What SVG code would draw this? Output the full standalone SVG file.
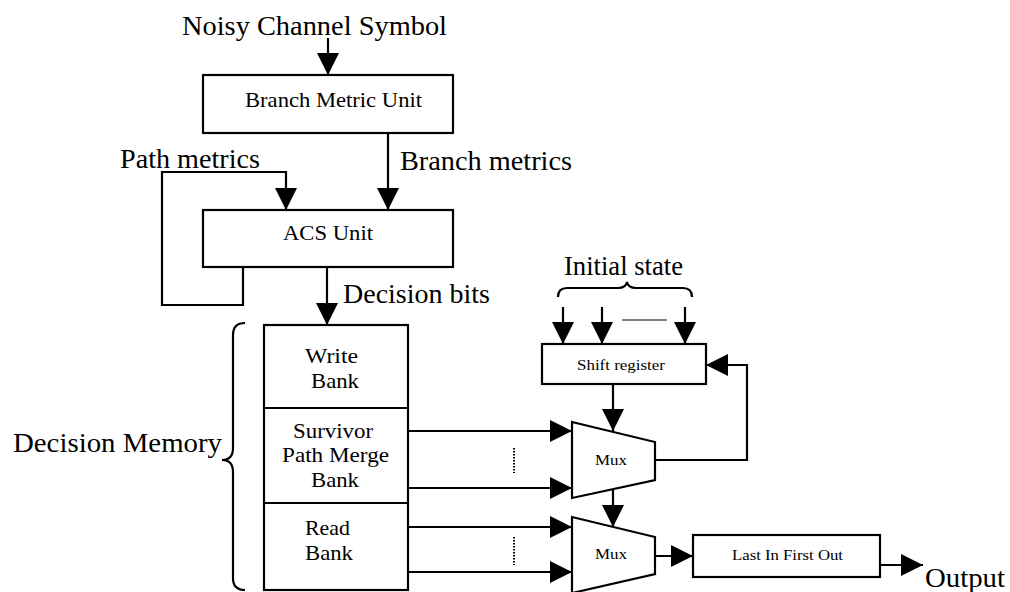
<svg xmlns="http://www.w3.org/2000/svg" width="1010" height="592" viewBox="0 0 1010 592">
  <style>
    .box { fill: #fff; stroke: #000; stroke-width: 2.2; }
    .wire { fill: none; stroke: #000; stroke-width: 2.2; }
    .arrow { fill: none; stroke: #000; stroke-width: 2.2; marker-end: url(#head); }
    .brace { fill: none; stroke: #000; stroke-width: 2.2; }
    .dots { fill: none; stroke: #000; stroke-width: 2; stroke-dasharray: 1.5 1.5; }
    .big { font-family: "Liberation Serif", "Times New Roman", serif; font-size: 27px; fill: #000; }
    .mid { font-family: "Liberation Serif", "Times New Roman", serif; font-size: 22px; fill: #000; }
    .small { font-family: "Liberation Serif", "Times New Roman", serif; font-size: 15px; fill: #000; }
    .tiny { font-family: "Liberation Serif", "Times New Roman", serif; font-size: 15px; fill: #000; }
  </style>
  <defs>
    <marker id="head" markerUnits="userSpaceOnUse" markerWidth="22" markerHeight="22" refX="22" refY="11" orient="auto">
      <path d="M0,0 L22,11 L0,22 z" fill="#000"/>
    </marker>
  </defs>
  <rect width="1010" height="592" fill="#fff"/>

  <!-- free labels -->
  <text class="big" x="182" y="35" textLength="265" lengthAdjust="spacingAndGlyphs">Noisy Channel Symbol</text>
  <text class="big" x="120" y="168" textLength="140" lengthAdjust="spacingAndGlyphs">Path metrics</text>
  <text class="big" x="400" y="170" textLength="172" lengthAdjust="spacingAndGlyphs">Branch metrics</text>
  <text class="big" x="343" y="303" textLength="147" lengthAdjust="spacingAndGlyphs">Decision bits</text>
  <text class="big" x="564" y="275" textLength="119" lengthAdjust="spacingAndGlyphs">Initial state</text>
  <text class="big" x="13" y="452" textLength="209" lengthAdjust="spacingAndGlyphs">Decision Memory</text>
  <text class="big" x="925" y="587" textLength="80" lengthAdjust="spacingAndGlyphs">Output</text>

  <!-- braces -->
  <path class="brace" d="M558,297 Q558,288 567,288 L618,288 Q626,288 627,282 Q628,288 636,288 L683,288 Q692,288 692,297"/>
  <path class="brace" d="M245,323 Q233,323 233,335 L233,448 Q233,460 222,460 Q233,460 233,472 L233,578 Q233,590 245,590"/>

  <g id="connectors">
    <line class="arrow" x1="328" y1="38" x2="328" y2="75"/>
    <line class="arrow" x1="388" y1="133" x2="388" y2="210"/>
    <polyline class="arrow" points="243,267 243,305 162,305 162,172 286,172 286,210"/>
    <line class="arrow" x1="327" y1="267" x2="327" y2="325"/>
    <line class="arrow" x1="563" y1="307" x2="563" y2="344"/>
    <line class="arrow" x1="602" y1="307" x2="602" y2="344"/>
    <line class="arrow" x1="685" y1="307" x2="685" y2="344"/>
    <line class="wire" x1="622" y1="320" x2="667" y2="320" style="stroke-width:1.2"/>
    <line class="arrow" x1="613" y1="384" x2="613" y2="431"/>
    <polyline class="arrow" points="655,460 747,460 747,365 706,365"/>
    <line class="arrow" x1="613" y1="489" x2="613" y2="527"/>
    <line class="arrow" x1="408" y1="431" x2="572" y2="431"/>
    <line class="arrow" x1="408" y1="488" x2="572" y2="488"/>
    <line class="arrow" x1="408" y1="527" x2="572" y2="527"/>
    <line class="arrow" x1="408" y1="572" x2="572" y2="572"/>
    <line class="dots" x1="514" y1="448" x2="514" y2="473"/>
    <line class="dots" x1="514" y1="537" x2="514" y2="565"/>
    <line class="arrow" x1="655" y1="556" x2="693" y2="556"/>
    <line class="arrow" x1="880" y1="565" x2="923" y2="565"/>
  </g>

  <g id="branch-metric-unit">
    <rect class="box" x="203" y="75" width="250" height="58"/>
    <text class="mid" x="245" y="107" textLength="177" lengthAdjust="spacingAndGlyphs">Branch Metric Unit</text>
  </g>

  <g id="acs-unit">
    <rect class="box" x="203" y="210" width="250" height="57"/>
    <text class="mid" x="283" y="240" textLength="90" lengthAdjust="spacingAndGlyphs">ACS Unit</text>
  </g>

  <g id="decision-memory">
    <rect class="box" x="264" y="325" width="144" height="265"/>
    <line class="wire" x1="264" y1="408" x2="408" y2="408"/>
    <line class="wire" x1="264" y1="503" x2="408" y2="503"/>
    <text class="mid" x="305" y="363" textLength="53" lengthAdjust="spacingAndGlyphs">Write</text>
    <text class="mid" x="311" y="388" textLength="48" lengthAdjust="spacingAndGlyphs">Bank</text>
    <text class="mid" x="293" y="438" textLength="80" lengthAdjust="spacingAndGlyphs">Survivor</text>
    <text class="mid" x="282" y="462" textLength="107" lengthAdjust="spacingAndGlyphs">Path Merge</text>
    <text class="mid" x="311" y="487" textLength="48" lengthAdjust="spacingAndGlyphs">Bank</text>
    <text class="mid" x="305" y="535" textLength="45" lengthAdjust="spacingAndGlyphs">Read</text>
    <text class="mid" x="305" y="560" textLength="48" lengthAdjust="spacingAndGlyphs">Bank</text>
  </g>

  <g id="shift-register">
    <rect class="box" x="542" y="344" width="164" height="40"/>
    <text class="small" x="577" y="370" textLength="88" lengthAdjust="spacingAndGlyphs">Shift register</text>
  </g>

  <g id="mux-upper">
    <polygon class="box" points="572,422 655,442 655,480 572,498"/>
    <text class="tiny" x="595" y="465" textLength="32" lengthAdjust="spacingAndGlyphs">Mux</text>
  </g>

  <g id="mux-lower">
    <polygon class="box" points="572,517 655,537 655,574 572,593"/>
    <text class="tiny" x="595" y="559" textLength="32" lengthAdjust="spacingAndGlyphs">Mux</text>
  </g>

  <g id="lifo">
    <rect class="box" x="693" y="535" width="187" height="42"/>
    <text class="tiny" x="732" y="560" textLength="111" lengthAdjust="spacingAndGlyphs">Last In First Out</text>
  </g>
</svg>
